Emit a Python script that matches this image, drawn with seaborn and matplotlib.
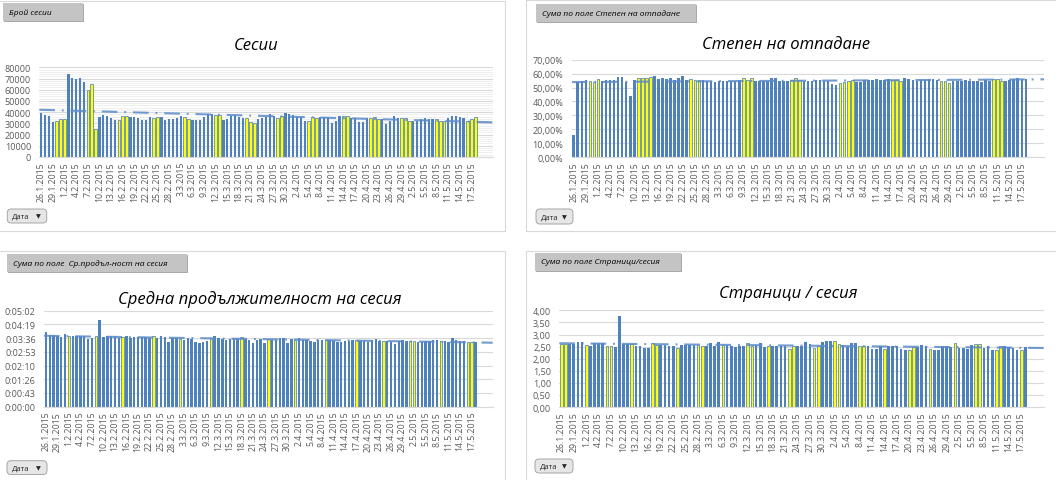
import numpy as np
import pandas as pd
import matplotlib
matplotlib.use("Agg")
import matplotlib.pyplot as plt
import seaborn as sns
from matplotlib.lines import Line2D
from matplotlib.patches import Rectangle, FancyBboxPatch
from matplotlib.ticker import FuncFormatter

# --- data (26.1.2015 - 18.5.2015, daily) ---
dates = pd.date_range("2015-01-26", "2015-05-18", freq="D")
date_labels = [f"{d.day}.{d.month}.{d.year}" for d in dates]

sessions = [39000, 37300, 36100, 30900, 32500, 33700, 33400, 73700, 70400, 69500,
            70100, 66900, 59700, 64800, 24800, 35500, 37000, 36700, 35000, 32600,
            33200, 36400, 36400, 35900, 35900, 35000, 32600, 33200, 35900, 35000,
            35900, 35900, 33200, 34100, 34100, 35000, 36700, 35900, 34100, 32600,
            33200, 32600, 35900, 38500, 38500, 37600, 37600, 33000, 33500, 36500,
            37000, 35500, 35000, 34300, 31300, 30400, 33400, 34300, 35500, 37900,
            36700, 34300, 36700, 38800, 38200, 37300, 35800, 35500, 32500, 32500,
            35500, 34900, 35500, 35500, 35200, 30700, 32500, 36700, 36700, 36700,
            34900, 34900, 31600, 31600, 34900, 34300, 35800, 33400, 33400, 29000,
            31900, 36700, 34900, 34900, 34900, 32200, 32200, 32500, 34000, 34900,
            33700, 33400, 33700, 32500, 32500, 34900, 36700, 36700, 35800, 34300,
            32500, 33400, 35800]

bounce_rate = [16.0, 54.0, 54.5, 55.5, 54.5, 54.0, 55.8, 54.5, 55.5, 55.5,
               55.5, 57.5, 57.5, 54.0, 44.0, 55.5, 56.5, 56.5, 56.5, 57.3,
               58.0, 55.8, 56.5, 56.0, 56.5, 55.5, 57.0, 58.0, 55.5, 56.0,
               55.5, 55.5, 55.5, 54.5, 54.5, 54.0, 55.0, 54.5, 55.0, 55.0,
               55.0, 55.5, 57.0, 55.5, 56.5, 55.0, 55.0, 55.0, 55.0, 56.5,
               56.5, 54.5, 54.7, 54.7, 55.6, 57.0, 55.6, 54.7, 54.7, 54.7,
               55.6, 55.6, 54.7, 54.7, 52.3, 51.8, 53.2, 54.2, 54.7, 55.6,
               54.2, 54.0, 55.2, 55.2, 55.2, 56.1, 55.6, 55.2, 56.1, 55.2,
               55.2, 54.7, 57.0, 56.1, 55.2, 54.7, 55.2, 55.2, 56.1, 56.1,
               55.6, 54.7, 54.7, 53.2, 54.7, 54.7, 54.7, 55.6, 54.7, 54.7,
               54.7, 53.8, 55.6, 54.7, 56.1, 56.1, 54.7, 54.7, 55.2, 56.1,
               56.6, 56.1, 56.1]

avg_duration_sec = [235, 226, 227, 222, 219, 228, 222, 222, 224, 224,
                    224, 212, 217, 222, 273, 219, 222, 224, 222, 217,
                    218, 222, 216, 219, 219, 219, 219, 217, 222, 217,
                    222, 219, 204, 217, 217, 213, 209, 215, 213, 203,
                    201, 203, 207, 213, 222, 217, 213, 211, 213, 212,
                    213, 218, 213, 209, 201, 211, 213, 200, 213, 211,
                    211, 217, 215, 200, 213, 211, 217, 211, 211, 207,
                    203, 211, 211, 211, 211, 207, 203, 203, 207, 207,
                    209, 209, 207, 207, 203, 209, 213, 207, 207, 207,
                    205, 196, 207, 209, 207, 207, 207, 205, 205, 207,
                    207, 209, 209, 207, 207, 205, 215, 209, 207, 207,
                    205, 203, 203]

pages_per_session = [2.61, 2.61, 2.61, 2.61, 2.68, 2.68, 2.58, 2.54, 2.64, 2.64,
                     2.64, 2.51, 2.51, 2.47, 3.75, 2.61, 2.61, 2.61, 2.51, 2.54,
                     2.44, 2.44, 2.64, 2.58, 2.58, 2.58, 2.54, 2.51, 2.44, 2.58,
                     2.58, 2.58, 2.58, 2.58, 2.54, 2.54, 2.64, 2.54, 2.68, 2.58,
                     2.58, 2.51, 2.47, 2.51, 2.54, 2.64, 2.54, 2.58, 2.64, 2.49,
                     2.51, 2.51, 2.54, 2.53, 2.51, 2.42, 2.53, 2.53, 2.53, 2.67,
                     2.59, 2.45, 2.53, 2.68, 2.73, 2.73, 2.73, 2.59, 2.56, 2.48,
                     2.64, 2.64, 2.51, 2.51, 2.51, 2.40, 2.40, 2.51, 2.40, 2.51,
                     2.51, 2.51, 2.40, 2.37, 2.34, 2.48, 2.48, 2.56, 2.51, 2.42,
                     2.37, 2.37, 2.53, 2.51, 2.48, 2.64, 2.45, 2.45, 2.42, 2.56,
                     2.59, 2.59, 2.45, 2.51, 2.37, 2.37, 2.51, 2.53, 2.48, 2.45,
                     2.37, 2.37, 2.48]

# highlighted (yellow) days per chart
sessions_yellow = [4, 5, 6, 12, 13, 14, 20, 21, 22, 29, 30, 37, 38, 45, 46, 53, 54, 55,
                   61, 62, 69, 70, 71, 78, 79, 85, 86, 87, 93, 94, 95, 102, 103, 104,
                   110, 111, 112]
bounce_yellow = [4, 5, 6, 16, 17, 18, 19, 29, 30, 31, 42, 43, 44, 54, 55, 56, 66, 67,
                 68, 69, 79, 80, 81, 91, 92, 93, 104, 105, 106]
duration_yellow = [6, 13, 20, 28, 35, 43, 51, 58, 65, 73, 81, 88, 95, 96, 103, 110, 111]
pages_yellow = [0, 1, 6, 11, 12, 17, 22, 23, 28, 33, 34, 39, 45, 46, 50, 55, 56, 61, 62,
                66, 67, 72, 73, 78, 84, 85, 89, 95, 100, 101, 105, 106, 111]

BLUE = "#4f81bd"
YELLOW = "#ffff00"
GRID = "#d9d9d9"
TICKC = "#595959"
W, H = 1056, 481

sns.set_theme(style="white")
plt.rcParams["font.family"] = ["Open Sans", "DejaVu Sans"]

fig = plt.figure(figsize=(W / 100, H / 100), dpi=100)


def fx(x):
    return x / W


def fy(y):
    return 1 - y / H


def hms(v, pos=None):
    s = int(round(v))
    return f"{s // 3600}:{(s % 3600) // 60:02d}:{s % 60:02d}"


def draw_chart(box, values, yellow, ymax, ystep, fmt, minor=None):
    x0, y0, x1, y1 = box
    ax = fig.add_axes([fx(x0), fy(y1), (x1 - x0) / W, (y1 - y0) / H])
    df = pd.DataFrame({"date": date_labels, "value": values})
    sns.barplot(data=df, x="date", y="value", order=date_labels, color=BLUE,
                saturation=1, width=0.64, errorbar=None, ax=ax, zorder=2)
    for i, p in enumerate(ax.patches):
        p.set_linewidth(0)
        p.set_snap(True)
        if i in yellow:
            p.set_facecolor(YELLOW)
            p.set_edgecolor(BLUE)
            p.set_linewidth(0.55)
    # linear trend with 4 periods forward forecast
    idx = np.arange(len(values))
    coef = np.polyfit(idx, values, 1)
    xs = np.array([-0.5, len(values) + 3.5])
    ax.plot(xs, np.polyval(coef, xs), color="#5b8bc9", alpha=0.85, lw=1.5,
            ls=(0, (7.5, 3.3, 0.9, 3.3)), zorder=3, solid_capstyle="butt")
    ax.set_xlim(-0.5, len(values) + 3.5)
    ax.set_ylim(0, ymax)
    ax.set_yticks(np.arange(0, ymax + ystep * 0.01, ystep))
    ax.yaxis.set_major_formatter(FuncFormatter(fmt))
    ax.set_xticks(range(0, len(values), 3))
    ax.set_xticklabels(date_labels[::3], rotation=90)
    ax.tick_params(axis="x", length=0, pad=3, labelsize=6.3, labelcolor=TICKC)
    ax.tick_params(axis="y", length=0, pad=6, labelsize=6.5, labelcolor=TICKC)
    if minor:
        ax.set_yticks(np.arange(0, ymax + 1, minor), minor=True)
        ax.tick_params(axis="y", which="minor", length=0)
        ax.yaxis.grid(True, which="minor", color="#ececec", lw=0.6)
    ax.yaxis.grid(True, which="major", color=GRID, lw=0.8)
    ax.set_axisbelow(True)
    ax.set_xlabel("")
    ax.set_ylabel("")
    for s in ["top", "right", "left"]:
        ax.spines[s].set_visible(False)
    ax.spines["bottom"].set_color(GRID)
    ax.spines["bottom"].set_linewidth(0.8)
    return ax


def field_button(box, text):
    x0, y0, x1, y1 = box
    fig.add_artist(Rectangle((fx(x0 + 1), fy(y1 + 1)), (x1 - x0) / W, (y1 - y0) / H,
                             transform=fig.transFigure, facecolor="#a9a9a9", lw=0))
    fig.add_artist(Rectangle((fx(x0), fy(y1)), (x1 - x0) / W, (y1 - y0) / H,
                             transform=fig.transFigure, facecolor="#c4c4c4", lw=0))
    fig.text(fx(x0 + 6), fy((y0 + y1) / 2), text, fontsize=6, style="italic",
             color="black", va="center", ha="left")


def date_button(box):
    x0, y0, x1, y1 = box
    # drawn in inches so the rounding stays circular
    fig.add_artist(FancyBboxPatch((x0 / 100, (H - y1) / 100), (x1 - x0) / 100,
                                  (y1 - y0) / 100,
                                  boxstyle="round,pad=0,rounding_size=0.04",
                                  transform=fig.dpi_scale_trans, facecolor="#e6e6e6",
                                  edgecolor="#a6a6a6", lw=0.7))
    fig.text(fx(x0 + 5), fy((y0 + y1) / 2 + 0.5), "Дата", fontsize=5.5,
             color="#262626", va="center", ha="left")
    fig.text(fx(x1 - 11), fy((y0 + y1) / 2), "▼", fontsize=4.5,
             color="#262626", va="center", ha="left", family=["DejaVu Sans"])


def hline(y, xa, xb):
    fig.add_artist(Line2D([fx(xa), fx(xb)], [fy(y), fy(y)], transform=fig.transFigure,
                          color=GRID, lw=0.8))


def vline(x, ya, yb):
    fig.add_artist(Line2D([fx(x), fx(x)], [fy(ya), fy(yb)], transform=fig.transFigure,
                          color=GRID, lw=0.8))


# panel borders
hline(1.7, 0, 505); hline(231.5, 0, 505); vline(505, 1.7, 231.5)
hline(1.2, 526, 1056); hline(231.7, 526, 1056); vline(526, 1.2, 231.7)
hline(251.7, 0, 505); vline(505, 251.7, 481)
hline(251.7, 526, 1056); vline(526, 251.7, 481)

draw_chart((39.3, 68.3, 492.7, 157.9), sessions, sessions_yellow, 80000, 10000,
           lambda v, p: f"{int(v)}", minor=2000)
draw_chart((571.7, 60.7, 1044, 158.1), bounce_rate, bounce_yellow, 70, 10,
           lambda v, p: f"{v:.2f}%".replace(".", ","))
draw_chart((44, 311.7, 492.7, 407.7), avg_duration_sec, duration_yellow, 302.4, 43.2, hms)
draw_chart((559.3, 311.3, 1044, 408.1), pages_per_session, pages_yellow, 4.0, 0.5,
           lambda v, p: f"{v:.2f}".replace(".", ","))

# chart titles
title_kw = dict(fontsize=12, style="italic", color="black", ha="center", va="baseline")
fig.text(fx(256), fy(50), "Сесии", **title_kw)
fig.text(fx(786), fy(49.3), "Степен на отпадане", **title_kw)
fig.text(fx(260), fy(304.3), "Средна продължителност на сесия", **title_kw)
fig.text(fx(788), fy(297.8), "Страници / сесия", **title_kw)

# pivot field buttons
field_button((3.3, 4, 82.7, 21.7), "Брой сесии")
field_button((535.7, 5, 695.7, 22.7), "Сума по поле Степен на отпадане")
field_button((7.3, 255, 186.7, 272.7), "Сума по поле  Ср.продъл-ност на сесия")
field_button((535, 254, 681, 271.7), "Сума по поле Страници/сесия")

date_button((7.3, 210, 46.7, 224))
date_button((536, 210, 573, 225))
date_button((7, 461.7, 47, 475.5))
date_button((535, 460, 573, 474))

fig.savefig("out.png", dpi=100)
